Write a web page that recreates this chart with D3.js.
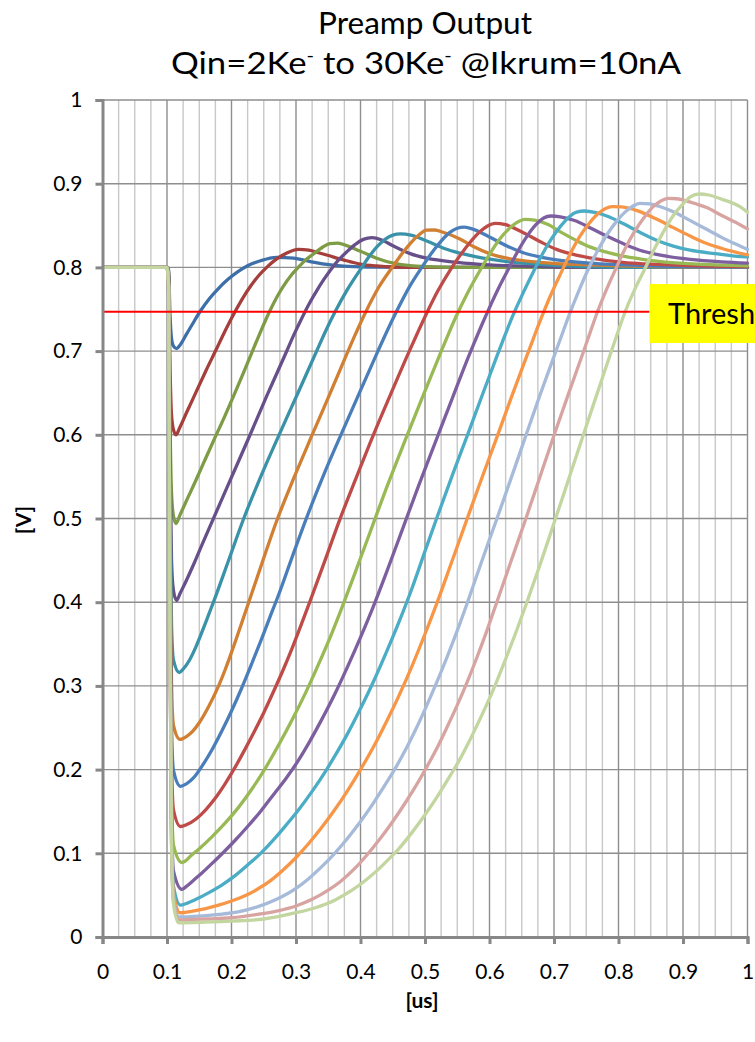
<!DOCTYPE html>
<html>
<head>
<meta charset="utf-8">
<script src="https://cdn.jsdelivr.net/npm/d3@7/dist/d3.min.js"></script>
<style>
  body { margin: 0; background: #fff; }
  svg { display: block; }
  text { font-family: Lato, "Open Sans", sans-serif; fill: #000; }
</style>
</head>
<body>
<svg id="chart" width="755" height="1042"></svg>
<script>
// Axis ticks
const xTicks = [0, 0.1, 0.2, 0.3, 0.4, 0.5, 0.6, 0.7, 0.8, 0.9, 1];
const yTicks = [0, 0.1, 0.2, 0.3, 0.4, 0.5, 0.6, 0.7, 0.8, 0.9, 1];
const xMinor = [0.025, 0.05, 0.075, 0.125, 0.15, 0.175, 0.225, 0.25, 0.275, 0.325, 0.35, 0.375,
  0.425, 0.45, 0.475, 0.525, 0.55, 0.575, 0.625, 0.65, 0.675, 0.725, 0.75, 0.775,
  0.825, 0.85, 0.875, 0.925, 0.95, 0.975];

// Input charge per curve and the Excel-style palette used for them
const charges = ["2Ke-", "4Ke-", "6Ke-", "8Ke-", "10Ke-", "12Ke-", "14Ke-", "16Ke-",
  "18Ke-", "20Ke-", "22Ke-", "24Ke-", "26Ke-", "28Ke-", "30Ke-"];
const colors = ["#3F6FA9", "#A53F3C", "#7E9B45", "#67508A", "#3A92A8", "#D07F33",
  "#4A7EBB", "#BE4B48", "#98B954", "#7D5FA0", "#4BACC6", "#F79646",
  "#A6BAD9", "#D7A4A2", "#C3D6A0"];

const thresholdV = 0.747;
const thresholdLabel = "Thresh";

// Preamp output [V] versus time [us], one list of (t, V) samples per input charge
const q02 = [[0,0.8],[0.1,0.8],[0.1025,0.797],[0.1045,0.747],[0.107,0.715],[0.11,0.706],[0.115,0.703],
  [0.12,0.707],[0.13,0.72],[0.14,0.733],[0.151,0.747],[0.165,0.762],[0.18,0.775],[0.195,0.786],
  [0.21,0.795],[0.225,0.802],[0.245,0.808],[0.27,0.812],[0.296,0.811],[0.322,0.807],[0.348,0.8035],
  [0.374,0.8015],[0.41,0.8005],[0.5,0.8],[1,0.8]];
const q04 = [[0,0.8],[0.1,0.8],[0.1025,0.794],[0.1045,0.69],[0.107,0.624],[0.11,0.606],[0.114,0.6],
  [0.12,0.609],[0.13,0.626],[0.145,0.651],[0.16,0.676],[0.177,0.703],[0.19,0.724],[0.2054,0.747],
  [0.218,0.764],[0.23,0.778],[0.242,0.79],[0.2545,0.8],[0.268,0.809],[0.285,0.817],[0.3036,0.8216],
  [0.32,0.8205],[0.335,0.8175],[0.3475,0.8148],[0.3734,0.809],[0.3992,0.804],[0.425,0.8017],
  [0.451,0.8005],[0.5,0.8],[1,0.8]];
const q06 = [[0,0.8],[0.1,0.8],[0.1025,0.791],[0.1045,0.632],[0.107,0.531],[0.11,0.503],[0.114,0.494],
  [0.12,0.504],[0.13,0.521],[0.145,0.546],[0.16,0.572],[0.174,0.596],[0.19,0.623],[0.203,0.646],
  [0.218,0.673],[0.232,0.699],[0.245,0.723],[0.257,0.744],[0.27,0.764],[0.28,0.777],[0.292,0.79],
  [0.3036,0.8],[0.315,0.809],[0.327,0.816],[0.34,0.8235],[0.3527,0.8285],[0.365,0.829],[0.3786,0.826],
  [0.3992,0.8195],[0.425,0.811],[0.451,0.805],[0.477,0.802],[0.51,0.8008],[0.55,0.8],[1,0.8]];
const q08 = [[0,0.8],[0.1,0.8],[0.1025,0.788],[0.1045,0.581],[0.107,0.45],[0.11,0.414],[0.115,0.402],
  [0.12,0.41],[0.13,0.426],[0.14,0.443],[0.155,0.47],[0.168,0.493],[0.197,0.544],[0.226,0.595],
  [0.255,0.647],[0.2845,0.698],[0.297,0.72],[0.3088,0.739],[0.32,0.756],[0.332,0.772],[0.3427,0.785],
  [0.3527,0.796],[0.365,0.808],[0.3786,0.8185],[0.392,0.8275],[0.4044,0.8335],[0.418,0.8355],
  [0.432,0.833],[0.451,0.8255],[0.477,0.8165],[0.5026,0.811],[0.55,0.806],[0.6,0.803],[0.65,0.8015],
  [0.7,0.8005],[0.8,0.8],[1,0.8]];
const q10 = [[0,0.8],[0.1,0.8],[0.1025,0.785],[0.1045,0.534],[0.107,0.374],[0.11,0.331],[0.119,0.316],
  [0.125,0.32],[0.135,0.331],[0.145,0.347],[0.155,0.366],[0.165,0.386],[0.172,0.4],[0.195,0.449],
  [0.219,0.5],[0.247,0.553],[0.275,0.602],[0.303,0.65],[0.332,0.7],[0.346,0.724],[0.36,0.746],
  [0.38,0.774],[0.402,0.8],[0.414,0.8135],[0.426,0.825],[0.438,0.8335],[0.45,0.8385],[0.462,0.84],
  [0.478,0.8385],[0.5026,0.8315],[0.53,0.8225],[0.554,0.817],[0.58,0.8125],[0.627,0.807],
  [0.678,0.8035],[0.75,0.801],[0.85,0.8],[1,0.8]];
const q12 = [[0,0.8],[0.1,0.8],[0.1025,0.783],[0.1045,0.49],[0.107,0.304],[0.11,0.253],[0.12,0.236],
  [0.13,0.2395],[0.14,0.246],[0.15,0.256],[0.165,0.276],[0.18,0.3],[0.19,0.319],[0.2,0.34],
  [0.225,0.396],[0.247,0.446],[0.27,0.497],[0.297,0.549],[0.324,0.598],[0.352,0.648],[0.379,0.697],
  [0.392,0.72],[0.407,0.745],[0.428,0.776],[0.45,0.801],[0.464,0.816],[0.477,0.8285],[0.49,0.8385],
  [0.5026,0.8445],[0.515,0.8447],[0.528,0.842],[0.554,0.834],[0.575,0.825],[0.6,0.8165],
  [0.627,0.811],[0.678,0.806],[0.756,0.803],[0.85,0.801],[1,0.8]];
const q14 = [[0,0.8],[0.1,0.8],[0.1025,0.781],[0.1045,0.459],[0.107,0.254],[0.11,0.199],[0.121,0.18],
  [0.13,0.183],[0.141,0.19],[0.155,0.205],[0.17,0.224],[0.185,0.246],[0.2,0.27],[0.215,0.296],
  [0.23,0.324],[0.245,0.353],[0.26,0.383],[0.2726,0.408],[0.295,0.456],[0.318,0.504],[0.345,0.556],
  [0.372,0.604],[0.4,0.653],[0.427,0.7],[0.44,0.722],[0.455,0.746],[0.476,0.777],[0.495,0.8],
  [0.51,0.817],[0.525,0.8315],[0.538,0.8415],[0.549,0.8465],[0.561,0.848],[0.575,0.8455],
  [0.6008,0.836],[0.627,0.8255],[0.6524,0.8175],[0.678,0.8125],[0.704,0.809],[0.7556,0.805],
  [0.85,0.802],[1,0.8005]];
const q16 = [[0,0.8],[0.1,0.8],[0.1025,0.78],[0.1045,0.433],[0.107,0.212],[0.11,0.152],[0.121,0.132],
  [0.13,0.134],[0.145,0.141],[0.16,0.152],[0.175,0.166],[0.19,0.183],[0.205,0.202],[0.22,0.223],
  [0.235,0.245],[0.25,0.268],[0.265,0.293],[0.28,0.319],[0.295,0.347],[0.31,0.377],[0.3217,0.401],
  [0.345,0.45],[0.368,0.499],[0.394,0.55],[0.42,0.6],[0.447,0.649],[0.4757,0.7],[0.488,0.721],
  [0.5,0.741],[0.52,0.772],[0.54,0.798],[0.555,0.815],[0.57,0.83],[0.585,0.8425],[0.597,0.8495],
  [0.609,0.8527],[0.625,0.851],[0.6524,0.8415],[0.678,0.831],[0.704,0.8215],[0.73,0.8155],
  [0.7556,0.8115],[0.807,0.806],[0.9,0.8025],[1,0.801]];
const q18 = [[0,0.8],[0.1,0.8],[0.1025,0.779],[0.1045,0.409],[0.107,0.174],[0.11,0.11],[0.123,0.089],
  [0.128,0.0905],[0.137,0.097],[0.15,0.1055],[0.17,0.12],[0.19,0.136],[0.21,0.154],[0.23,0.175],
  [0.2535,0.203],[0.275,0.232],[0.295,0.261],[0.315,0.292],[0.335,0.326],[0.355,0.362],[0.3724,0.396],
  [0.393,0.438],[0.416,0.486],[0.44,0.536],[0.469,0.593],[0.495,0.643],[0.521,0.692],[0.535,0.718],
  [0.548,0.741],[0.565,0.768],[0.585,0.796],[0.6,0.8155],[0.615,0.833],[0.63,0.846],[0.642,0.8535],
  [0.655,0.8574],[0.67,0.8565],[0.69,0.8515],[0.712,0.8415],[0.735,0.832],[0.7556,0.8245],
  [0.78,0.8185],[0.807,0.8135],[0.835,0.81],[0.859,0.8075],[0.93,0.8035],[1,0.802]];
const q20 = [[0,0.8],[0.1,0.8],[0.1025,0.778],[0.1045,0.396],[0.107,0.146],[0.11,0.079],[0.123,0.057],
  [0.13,0.0605],[0.14,0.067],[0.155,0.077],[0.17,0.088],[0.1873,0.101],[0.205,0.115],[0.225,0.132],
  [0.245,0.15],[0.265,0.17],[0.285,0.19],[0.302,0.209],[0.32,0.232],[0.34,0.26],[0.36,0.29],
  [0.38,0.323],[0.4,0.358],[0.42,0.395],[0.44,0.435],[0.464,0.485],[0.49,0.539],[0.517,0.593],
  [0.542,0.643],[0.5667,0.692],[0.578,0.713],[0.589,0.733],[0.6,0.752],[0.614,0.775],[0.628,0.796],
  [0.643,0.818],[0.658,0.837],[0.672,0.851],[0.684,0.859],[0.695,0.8614],[0.71,0.8605],[0.732,0.856],
  [0.7556,0.8475],[0.78,0.838],[0.807,0.8285],[0.833,0.8205],[0.859,0.8155],[0.911,0.8095],
  [0.96,0.8065],[1,0.805]];
const q22 = [[0,0.8],[0.1,0.8],[0.1025,0.777],[0.1045,0.38],[0.107,0.129],[0.11,0.061],[0.121,0.038],
  [0.13,0.04],[0.145,0.045],[0.165,0.053],[0.185,0.062],[0.205,0.073],[0.225,0.086],[0.244,0.099],
  [0.265,0.116],[0.285,0.134],[0.305,0.153],[0.325,0.174],[0.345,0.197],[0.36,0.216],[0.38,0.243],
  [0.4,0.273],[0.42,0.305],[0.44,0.34],[0.46,0.377],[0.48,0.417],[0.5,0.461],[0.518,0.5],
  [0.543,0.553],[0.566,0.6],[0.59,0.65],[0.613,0.697],[0.624,0.719],[0.636,0.742],[0.65,0.766],
  [0.665,0.79],[0.68,0.813],[0.695,0.833],[0.71,0.849],[0.723,0.86],[0.735,0.866],[0.747,0.8674],
  [0.765,0.8655],[0.785,0.8605],[0.807,0.8525],[0.833,0.842],[0.859,0.8325],[0.885,0.8255],
  [0.911,0.8205],[0.95,0.8165],[0.99,0.813],[1,0.8125]];
const q24 = [[0,0.8],[0.1,0.8],[0.1025,0.777],[0.1045,0.376],[0.107,0.121],[0.11,0.052],[0.12,0.029],
  [0.14,0.031],[0.16,0.034],[0.18,0.038],[0.2,0.043],[0.22,0.049],[0.24,0.057],[0.26,0.067],
  [0.28,0.08],[0.3,0.095],[0.32,0.112],[0.34,0.131],[0.36,0.152],[0.38,0.175],[0.4,0.2],
  [0.42,0.227],[0.44,0.257],[0.46,0.289],[0.48,0.324],[0.5,0.362],[0.518,0.398],[0.54,0.445],
  [0.5646,0.498],[0.587,0.546],[0.61,0.594],[0.634,0.645],[0.6577,0.694],[0.668,0.715],[0.68,0.739],
  [0.695,0.767],[0.71,0.792],[0.725,0.816],[0.74,0.837],[0.755,0.853],[0.768,0.864],[0.78,0.8705],
  [0.79,0.8726],[0.805,0.8722],[0.83,0.8675],[0.858,0.858],[0.885,0.8475],[0.911,0.8375],
  [0.937,0.8285],[0.963,0.822],[1,0.815]];
const q26 = [[0,0.8],[0.1,0.8],[0.1025,0.777],[0.1045,0.373],[0.107,0.117],[0.11,0.047],[0.118,0.024],
  [0.15,0.025],[0.18,0.027],[0.21,0.03],[0.24,0.036],[0.27,0.045],[0.3,0.058],[0.32,0.07],
  [0.34,0.084],[0.36,0.1],[0.38,0.118],[0.4,0.138],[0.42,0.16],[0.44,0.184],[0.455,0.203],
  [0.47,0.224],[0.485,0.247],[0.5,0.272],[0.517,0.302],[0.535,0.336],[0.55,0.366],[0.5646,0.397],
  [0.588,0.449],[0.6116,0.5],[0.633,0.547],[0.655,0.596],[0.678,0.647],[0.7016,0.697],[0.712,0.719],
  [0.723,0.742],[0.738,0.771],[0.752,0.796],[0.767,0.819],[0.782,0.839],[0.797,0.855],[0.81,0.866],
  [0.822,0.873],[0.833,0.8766],[0.848,0.876],[0.865,0.8725],[0.885,0.8665],[0.91,0.8565],
  [0.9366,0.8455],[0.962,0.835],[0.9884,0.8255],[1,0.8215]];
const q28 = [[0,0.8],[0.1,0.8],[0.1025,0.776],[0.1045,0.371],[0.107,0.115],[0.11,0.044],[0.118,0.0205],
  [0.16,0.0215],[0.2,0.023],[0.24,0.027],[0.27,0.031],[0.3,0.037],[0.325,0.045],[0.35,0.056],
  [0.37,0.067],[0.39,0.081],[0.41,0.098],[0.43,0.117],[0.45,0.138],[0.47,0.161],[0.49,0.186],
  [0.5026,0.203],[0.52,0.228],[0.535,0.252],[0.55,0.277],[0.565,0.304],[0.58,0.333],[0.595,0.364],
  [0.61,0.397],[0.632,0.446],[0.6555,0.498],[0.677,0.547],[0.699,0.597],[0.722,0.648],[0.7455,0.699],
  [0.755,0.72],[0.765,0.742],[0.78,0.771],[0.795,0.797],[0.81,0.822],[0.825,0.843],[0.84,0.86],
  [0.853,0.872],[0.865,0.879],[0.877,0.8825],[0.89,0.882],[0.905,0.8795],[0.92,0.876],
  [0.9366,0.8715],[0.96,0.862],[0.9884,0.851],[1,0.846]];
const q30 = [[0,0.8],[0.1,0.8],[0.1025,0.776],[0.1045,0.369],[0.107,0.112],[0.11,0.04],[0.118,0.017],
  [0.16,0.0178],[0.2,0.019],[0.25,0.0215],[0.3,0.029],[0.33,0.035],[0.36,0.044],[0.385,0.055],
  [0.405,0.066],[0.425,0.079],[0.445,0.094],[0.46,0.106],[0.48,0.125],[0.5,0.146],[0.52,0.169],
  [0.54,0.194],[0.5516,0.209],[0.57,0.236],[0.585,0.26],[0.6,0.285],[0.612,0.307],[0.625,0.332],
  [0.64,0.362],[0.6566,0.397],[0.678,0.444],[0.6998,0.494],[0.721,0.543],[0.743,0.594],[0.765,0.645],
  [0.7868,0.695],[0.797,0.718],[0.806,0.738],[0.815,0.756],[0.826,0.775],[0.84,0.797],[0.855,0.821],
  [0.87,0.843],[0.885,0.862],[0.9,0.876],[0.912,0.8845],[0.925,0.8877],[0.94,0.8865],[0.96,0.8815],
  [0.9884,0.8725],[1,0.866]];

const series = [q02, q04, q06, q08, q10, q12, q14, q16, q18, q20, q22, q24, q26, q28, q30];

// ---- layout ----
const svg = d3.select("#chart");
const plotLeft = 102.5, plotRight = 747.5, plotTop = 100, plotBottom = 937;
const x = d3.scaleLinear().domain([0, 1]).range([plotLeft, plotRight]);
const y = d3.scaleLinear().domain([0, 1]).range([plotBottom, plotTop]);

svg.append("rect").attr("width", 755).attr("height", 1042).attr("fill", "#fff");

// Titles
svg.append("text").attr("x", 425).attr("y", 34).attr("text-anchor", "middle")
  .attr("textLength", 214).attr("lengthAdjust", "spacingAndGlyphs")
  .style("font-size", "31px").text("Preamp Output");
const t2 = svg.append("text").attr("x", 426).attr("y", 74).attr("text-anchor", "middle")
  .attr("textLength", 510).attr("lengthAdjust", "spacingAndGlyphs")
  .style("font-size", "31px");
t2.append("tspan").text("Qin=2Ke");
t2.append("tspan").attr("dy", -12).style("font-size", "18px").text("-");
t2.append("tspan").attr("dy", 12).text(" to 30Ke");
t2.append("tspan").attr("dy", -12).style("font-size", "18px").text("-");
t2.append("tspan").attr("dy", 12).text(" @Ikrum=10nA");

// Grid
const grid = svg.append("g");
grid.selectAll("line.minor").data(xMinor).join("line").attr("class", "minor")
  .attr("x1", d => x(d)).attr("x2", d => x(d)).attr("y1", plotTop).attr("y2", plotBottom)
  .attr("stroke", "#c8c8c8").attr("stroke-width", 1.4);
grid.selectAll("line.vmajor").data(xTicks.slice(1)).join("line").attr("class", "vmajor")
  .attr("x1", d => x(d)).attr("x2", d => x(d)).attr("y1", plotTop).attr("y2", plotBottom)
  .attr("stroke", "#8e8e8e").attr("stroke-width", 1.4);
grid.selectAll("line.hmajor").data(yTicks.slice(1)).join("line").attr("class", "hmajor")
  .attr("x1", plotLeft).attr("x2", plotRight).attr("y1", d => y(d)).attr("y2", d => y(d))
  .attr("stroke", "#8e8e8e").attr("stroke-width", 1.4);

// Curves
const line = d3.line().x(d => x(d[0])).y(d => y(d[1])).curve(d3.curveMonotoneX);
svg.append("g").selectAll("path").data(series).join("path")
  .attr("d", line).attr("fill", "none")
  .attr("stroke", (d, i) => colors[i])
  .attr("stroke-width", 3.3)
  .attr("stroke-linejoin", "round").attr("stroke-linecap", "round");

// Threshold line and its label box
const boxX = 649.5;
svg.append("line").attr("x1", plotLeft).attr("x2", boxX).attr("y1", y(thresholdV)).attr("y2", y(thresholdV))
  .attr("stroke", "#ff0000").attr("stroke-width", 2);
svg.append("rect").attr("x", boxX).attr("y", 284).attr("width", 110).attr("height", 59).attr("fill", "#ffff00");
svg.append("text").attr("x", 668).attr("y", 324).style("font-size", "29px").text(thresholdLabel);

// Axes
const axisColor = "#878787";
const yAxis = svg.append("g").attr("transform", `translate(${plotLeft},0)`)
  .call(d3.axisLeft(y).tickValues(yTicks).tickSize(7).tickPadding(13).tickFormat(d3.format("~g")));
const xAxis = svg.append("g").attr("transform", `translate(0,${plotBottom})`)
  .call(d3.axisBottom(x).tickValues(xTicks).tickSize(7).tickPadding(20).tickFormat(d3.format("~g")));
[yAxis, xAxis].forEach(g => {
  g.select(".domain").attr("stroke", axisColor).attr("stroke-width", 3);
  g.selectAll(".tick line").attr("stroke", axisColor).attr("stroke-width", 3);
  g.selectAll(".tick text").style("font-size", "21px").style("font-family", "Lato, 'Open Sans', sans-serif").attr("fill", "#000");
});

// Axis titles
svg.append("text").attr("transform", "translate(31,520) rotate(-90)").attr("text-anchor", "middle")
  .style("font-size", "21px").style("font-weight", "bold").text("[V]");
svg.append("text").attr("x", 422).attr("y", 1008).attr("text-anchor", "middle")
  .style("font-size", "21px").style("font-weight", "bold").text("[us]");
</script>
</body>
</html>
